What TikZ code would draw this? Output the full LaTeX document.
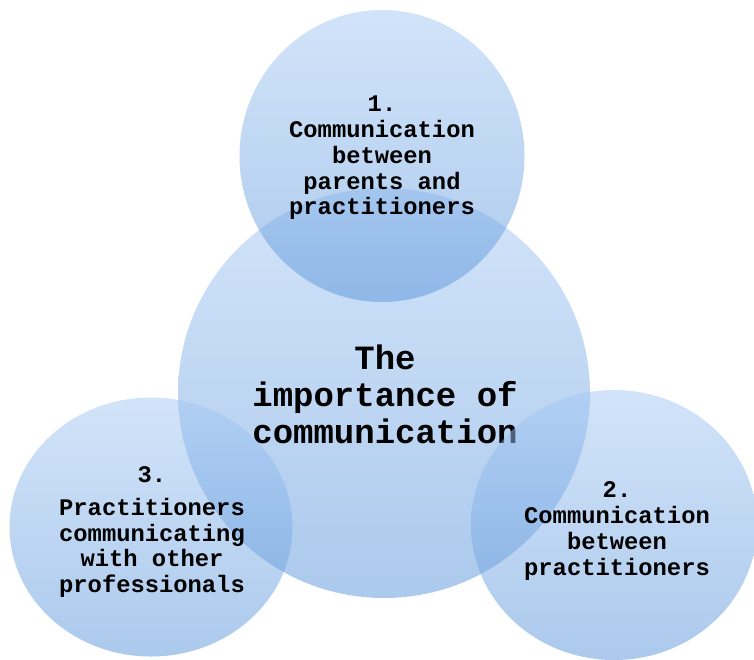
\documentclass[tikz,border=0pt]{standalone}
\usepackage{fontspec}
\setmainfont{Liberation Mono}
\usetikzlibrary{shapes.geometric}
\definecolor{shtop}{RGB}{166,201,244}
\definecolor{shbot}{RGB}{88,148,218}
\tikzset{
  bubble/.style={ellipse, draw=none, inner sep=0pt, top color=shtop, bottom color=shbot, fill opacity=0.5},
  smalltext/.style={align=center, text=black, font=\bfseries\fontsize{23.8}{25.7}\selectfont},
  bigtext/.style={align=center, text=black, font=\bfseries\fontsize{34}{37}\selectfont}
}
\begin{document}
\begin{tikzpicture}[x=1pt,y=-1pt]
\useasboundingbox (0,0) rectangle (754,659);
\begin{scope}
\clip (0,0) rectangle (754,659);
\node[bubble, minimum width=412pt, minimum height=410pt] (center) at (384,393) {};
\node[bigtext] (centertext) at (385,394) {The\\importance of\\communication};
\node[bubble, minimum width=285pt, minimum height=292pt] (top) at (382,156) {};
\node[smalltext] (toptext) at (382,158) {1.\\Communication\\between\\parents and\\practitioners};
\node[bubble, minimum width=283pt, minimum height=259pt] (left) at (151,527) {};
\node[smalltext] (lefttext) at (152,532) {3.\\[7pt]Practitioners\\communicating\\with other\\professionals};
\node[bubble, minimum width=286pt, minimum height=270pt] (right) at (614,525) {};
\node[smalltext] (righttext) at (617,531) {2.\\Communication\\between\\practitioners};
\end{scope}
\end{tikzpicture}
\end{document}
